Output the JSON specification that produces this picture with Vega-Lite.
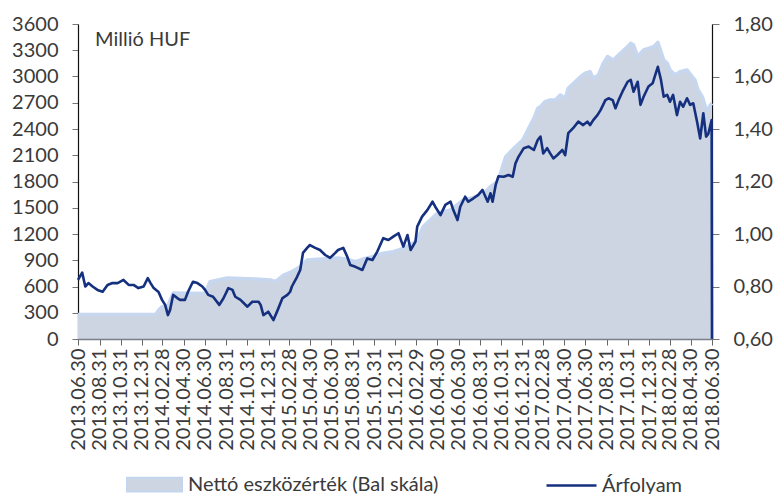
{
  "$schema": "https://vega.github.io/schema/vega-lite/v6.json",
  "autosize": {"type": "none"},
  "width": 634,
  "height": 315,
  "padding": {"left": 78, "top": 24, "right": 63, "bottom": 155},
  "background": "white",
  "config": {
    "view": {"stroke": null},
    "font": "Lato",
    "axis": {"labelFont": "Lato", "labelFontSize": 20, "labelColor": "#3a3a3a", "grid": false, "title": null, "labelOverlap": false},
    "axisY": {"labelOverlap": false},
    "legend": {"labelFont": "Lato", "labelFontSize": 20, "labelColor": "#3a3a3a", "padding": 0, "labelLimit": 500}
  },
  "title": {"text": "Millió HUF", "anchor": "start", "frame": "group", "orient": "top", "offset": -18, "dx": 17, "dy": 34, "baseline": "alphabetic", "fontSize": 20, "font": "Lato", "fontWeight": "normal", "color": "#3a3a3a"},
  "datasets": {
    "nav": [
      {"date": "2013-06-30", "value": 280},
      {"date": "2014-02-09", "value": 280},
      {"date": "2014-02-17", "value": 330},
      {"date": "2014-02-27", "value": 370},
      {"date": "2014-03-16", "value": 380},
      {"date": "2014-03-31", "value": 525},
      {"date": "2014-07-01", "value": 520},
      {"date": "2014-07-15", "value": 655},
      {"date": "2014-09-03", "value": 697},
      {"date": "2014-11-23", "value": 685},
      {"date": "2015-01-06", "value": 674},
      {"date": "2015-01-20", "value": 655},
      {"date": "2015-02-12", "value": 731},
      {"date": "2015-03-03", "value": 760},
      {"date": "2015-04-01", "value": 826},
      {"date": "2015-04-21", "value": 903},
      {"date": "2015-05-22", "value": 911},
      {"date": "2015-07-19", "value": 926},
      {"date": "2015-08-14", "value": 911},
      {"date": "2015-09-07", "value": 884},
      {"date": "2015-09-27", "value": 911},
      {"date": "2015-10-26", "value": 941},
      {"date": "2015-11-26", "value": 980},
      {"date": "2015-12-25", "value": 998},
      {"date": "2016-01-23", "value": 1036},
      {"date": "2016-02-19", "value": 1090},
      {"date": "2016-03-03", "value": 1131},
      {"date": "2016-03-20", "value": 1284},
      {"date": "2016-04-30", "value": 1437},
      {"date": "2016-06-07", "value": 1475},
      {"date": "2016-07-14", "value": 1589},
      {"date": "2016-08-04", "value": 1608},
      {"date": "2016-09-10", "value": 1660},
      {"date": "2016-09-30", "value": 1741},
      {"date": "2016-10-21", "value": 1800},
      {"date": "2016-11-13", "value": 2084},
      {"date": "2016-12-11", "value": 2198},
      {"date": "2017-01-01", "value": 2275},
      {"date": "2017-01-18", "value": 2408},
      {"date": "2017-02-02", "value": 2522},
      {"date": "2017-02-13", "value": 2637},
      {"date": "2017-02-21", "value": 2655},
      {"date": "2017-03-06", "value": 2712},
      {"date": "2017-03-21", "value": 2732},
      {"date": "2017-04-05", "value": 2732},
      {"date": "2017-04-19", "value": 2789},
      {"date": "2017-05-03", "value": 2751},
      {"date": "2017-05-12", "value": 2865},
      {"date": "2017-06-01", "value": 2941},
      {"date": "2017-06-16", "value": 2998},
      {"date": "2017-06-30", "value": 3037},
      {"date": "2017-07-14", "value": 3055},
      {"date": "2017-07-23", "value": 2980},
      {"date": "2017-08-07", "value": 3018},
      {"date": "2017-08-21", "value": 3151},
      {"date": "2017-09-02", "value": 3227},
      {"date": "2017-09-19", "value": 3189},
      {"date": "2017-10-09", "value": 3265},
      {"date": "2017-10-30", "value": 3341},
      {"date": "2017-11-08", "value": 3380},
      {"date": "2017-11-16", "value": 3360},
      {"date": "2017-11-28", "value": 3227},
      {"date": "2017-12-06", "value": 3265},
      {"date": "2017-12-15", "value": 3303},
      {"date": "2017-12-29", "value": 3322},
      {"date": "2018-01-13", "value": 3341},
      {"date": "2018-01-25", "value": 3390},
      {"date": "2018-02-03", "value": 3284},
      {"date": "2018-02-11", "value": 3189},
      {"date": "2018-02-21", "value": 3151},
      {"date": "2018-03-01", "value": 3075},
      {"date": "2018-03-16", "value": 3018},
      {"date": "2018-03-30", "value": 3055},
      {"date": "2018-04-19", "value": 3075},
      {"date": "2018-05-04", "value": 2998},
      {"date": "2018-05-12", "value": 2960},
      {"date": "2018-05-21", "value": 2846},
      {"date": "2018-06-02", "value": 2770},
      {"date": "2018-06-11", "value": 2655},
      {"date": "2018-06-19", "value": 2617},
      {"date": "2018-06-25", "value": 2674},
      {"date": "2018-06-30", "value": 2694}
    ],
    "price": [
      {"date": "2013-06-30", "value": 0.825},
      {"date": "2013-07-12", "value": 0.853},
      {"date": "2013-07-21", "value": 0.800},
      {"date": "2013-07-30", "value": 0.813},
      {"date": "2013-08-11", "value": 0.800},
      {"date": "2013-08-25", "value": 0.787},
      {"date": "2013-09-09", "value": 0.780},
      {"date": "2013-09-23", "value": 0.806},
      {"date": "2013-10-07", "value": 0.813},
      {"date": "2013-10-22", "value": 0.813},
      {"date": "2013-11-08", "value": 0.825},
      {"date": "2013-11-23", "value": 0.806},
      {"date": "2013-12-07", "value": 0.806},
      {"date": "2013-12-21", "value": 0.794},
      {"date": "2014-01-05", "value": 0.800},
      {"date": "2014-01-17", "value": 0.832},
      {"date": "2014-01-25", "value": 0.813},
      {"date": "2014-02-03", "value": 0.794},
      {"date": "2014-02-17", "value": 0.779},
      {"date": "2014-02-27", "value": 0.749},
      {"date": "2014-03-08", "value": 0.730},
      {"date": "2014-03-16", "value": 0.691},
      {"date": "2014-03-22", "value": 0.710},
      {"date": "2014-03-31", "value": 0.768},
      {"date": "2014-04-12", "value": 0.756},
      {"date": "2014-04-20", "value": 0.749},
      {"date": "2014-05-04", "value": 0.749},
      {"date": "2014-05-13", "value": 0.780},
      {"date": "2014-05-27", "value": 0.818},
      {"date": "2014-06-09", "value": 0.813},
      {"date": "2014-06-23", "value": 0.800},
      {"date": "2014-07-01", "value": 0.787},
      {"date": "2014-07-10", "value": 0.768},
      {"date": "2014-07-24", "value": 0.761},
      {"date": "2014-08-11", "value": 0.730},
      {"date": "2014-08-23", "value": 0.755},
      {"date": "2014-09-06", "value": 0.794},
      {"date": "2014-09-18", "value": 0.787},
      {"date": "2014-09-26", "value": 0.761},
      {"date": "2014-10-11", "value": 0.749},
      {"date": "2014-10-31", "value": 0.723},
      {"date": "2014-11-14", "value": 0.742},
      {"date": "2014-12-02", "value": 0.742},
      {"date": "2014-12-08", "value": 0.730},
      {"date": "2014-12-16", "value": 0.691},
      {"date": "2014-12-30", "value": 0.704},
      {"date": "2015-01-14", "value": 0.672},
      {"date": "2015-01-26", "value": 0.710},
      {"date": "2015-02-09", "value": 0.756},
      {"date": "2015-02-23", "value": 0.768},
      {"date": "2015-03-03", "value": 0.780},
      {"date": "2015-03-08", "value": 0.800},
      {"date": "2015-03-23", "value": 0.837},
      {"date": "2015-04-01", "value": 0.863},
      {"date": "2015-04-09", "value": 0.928},
      {"date": "2015-04-21", "value": 0.947},
      {"date": "2015-04-29", "value": 0.958},
      {"date": "2015-05-14", "value": 0.947},
      {"date": "2015-05-28", "value": 0.939},
      {"date": "2015-06-12", "value": 0.920},
      {"date": "2015-06-26", "value": 0.909},
      {"date": "2015-07-11", "value": 0.928},
      {"date": "2015-07-19", "value": 0.939},
      {"date": "2015-08-03", "value": 0.947},
      {"date": "2015-08-14", "value": 0.915},
      {"date": "2015-08-23", "value": 0.882},
      {"date": "2015-09-07", "value": 0.875},
      {"date": "2015-09-27", "value": 0.863},
      {"date": "2015-10-11", "value": 0.907},
      {"date": "2015-10-26", "value": 0.901},
      {"date": "2015-11-09", "value": 0.933},
      {"date": "2015-11-26", "value": 0.984},
      {"date": "2015-12-11", "value": 0.977},
      {"date": "2015-12-25", "value": 0.990},
      {"date": "2016-01-09", "value": 1.003},
      {"date": "2016-01-23", "value": 0.952},
      {"date": "2016-02-04", "value": 0.996},
      {"date": "2016-02-13", "value": 0.939},
      {"date": "2016-02-27", "value": 0.971},
      {"date": "2016-03-03", "value": 1.028},
      {"date": "2016-03-17", "value": 1.066},
      {"date": "2016-04-01", "value": 1.091},
      {"date": "2016-04-16", "value": 1.123},
      {"date": "2016-04-24", "value": 1.104},
      {"date": "2016-05-09", "value": 1.072},
      {"date": "2016-05-23", "value": 1.111},
      {"date": "2016-06-07", "value": 1.123},
      {"date": "2016-06-15", "value": 1.091},
      {"date": "2016-06-27", "value": 1.053},
      {"date": "2016-07-05", "value": 1.104},
      {"date": "2016-07-19", "value": 1.142},
      {"date": "2016-07-28", "value": 1.123},
      {"date": "2016-08-12", "value": 1.136},
      {"date": "2016-08-26", "value": 1.149},
      {"date": "2016-09-07", "value": 1.168},
      {"date": "2016-09-22", "value": 1.123},
      {"date": "2016-09-30", "value": 1.155},
      {"date": "2016-10-06", "value": 1.123},
      {"date": "2016-10-15", "value": 1.187},
      {"date": "2016-10-23", "value": 1.220},
      {"date": "2016-11-07", "value": 1.218},
      {"date": "2016-11-21", "value": 1.225},
      {"date": "2016-12-03", "value": 1.218},
      {"date": "2016-12-11", "value": 1.269},
      {"date": "2016-12-20", "value": 1.295},
      {"date": "2017-01-04", "value": 1.327},
      {"date": "2017-01-18", "value": 1.333},
      {"date": "2017-02-02", "value": 1.320},
      {"date": "2017-02-13", "value": 1.358},
      {"date": "2017-02-21", "value": 1.371},
      {"date": "2017-03-01", "value": 1.307},
      {"date": "2017-03-12", "value": 1.327},
      {"date": "2017-03-21", "value": 1.307},
      {"date": "2017-03-30", "value": 1.288},
      {"date": "2017-04-10", "value": 1.300},
      {"date": "2017-04-25", "value": 1.320},
      {"date": "2017-05-03", "value": 1.300},
      {"date": "2017-05-12", "value": 1.384},
      {"date": "2017-05-26", "value": 1.403},
      {"date": "2017-06-10", "value": 1.428},
      {"date": "2017-06-24", "value": 1.415},
      {"date": "2017-07-06", "value": 1.428},
      {"date": "2017-07-14", "value": 1.415},
      {"date": "2017-07-23", "value": 1.434},
      {"date": "2017-08-04", "value": 1.453},
      {"date": "2017-08-13", "value": 1.472},
      {"date": "2017-08-27", "value": 1.510},
      {"date": "2017-09-05", "value": 1.517},
      {"date": "2017-09-17", "value": 1.510},
      {"date": "2017-09-25", "value": 1.479},
      {"date": "2017-10-04", "value": 1.510},
      {"date": "2017-10-15", "value": 1.542},
      {"date": "2017-10-30", "value": 1.580},
      {"date": "2017-11-08", "value": 1.587},
      {"date": "2017-11-16", "value": 1.542},
      {"date": "2017-11-28", "value": 1.580},
      {"date": "2017-12-06", "value": 1.492},
      {"date": "2017-12-15", "value": 1.523},
      {"date": "2017-12-29", "value": 1.562},
      {"date": "2018-01-10", "value": 1.574},
      {"date": "2018-01-19", "value": 1.612},
      {"date": "2018-01-25", "value": 1.637},
      {"date": "2018-02-03", "value": 1.587},
      {"date": "2018-02-11", "value": 1.523},
      {"date": "2018-02-21", "value": 1.530},
      {"date": "2018-03-01", "value": 1.504},
      {"date": "2018-03-10", "value": 1.530},
      {"date": "2018-03-21", "value": 1.453},
      {"date": "2018-03-30", "value": 1.504},
      {"date": "2018-04-08", "value": 1.485},
      {"date": "2018-04-19", "value": 1.517},
      {"date": "2018-04-28", "value": 1.492},
      {"date": "2018-05-07", "value": 1.498},
      {"date": "2018-05-18", "value": 1.428},
      {"date": "2018-05-27", "value": 1.364},
      {"date": "2018-06-05", "value": 1.460},
      {"date": "2018-06-13", "value": 1.371},
      {"date": "2018-06-19", "value": 1.380},
      {"date": "2018-06-29", "value": 1.434},
      {"date": "2018-06-30", "value": 0.600}
    ]
  },
  "encoding": {
    "x": {
      "field": "date", "type": "temporal",
      "scale": {"type": "utc", "domain": [{"year": 2013, "month": 6, "date": 30, "utc": true}, {"year": 2018, "month": 6, "date": 30, "utc": true}]},
      "axis": {
        "labelExpr": "utcFormat(datum.value, '%Y.%m.%d')", "labelAngle": 270, "labelPadding": 3,
        "tickSize": 6, "tickColor": "#666666", "domainColor": "#7a7f88", "domainWidth": 1.5, "zindex": 1,
        "labelOverlap": false, "labelFlush": false, "labelBound": false,
        "values": [
          {"year": 2013, "month": 6, "date": 30, "utc": true},
          {"year": 2013, "month": 8, "date": 31, "utc": true},
          {"year": 2013, "month": 10, "date": 31, "utc": true},
          {"year": 2013, "month": 12, "date": 31, "utc": true},
          {"year": 2014, "month": 2, "date": 28, "utc": true},
          {"year": 2014, "month": 4, "date": 30, "utc": true},
          {"year": 2014, "month": 6, "date": 30, "utc": true},
          {"year": 2014, "month": 8, "date": 31, "utc": true},
          {"year": 2014, "month": 10, "date": 31, "utc": true},
          {"year": 2014, "month": 12, "date": 31, "utc": true},
          {"year": 2015, "month": 2, "date": 28, "utc": true},
          {"year": 2015, "month": 4, "date": 30, "utc": true},
          {"year": 2015, "month": 6, "date": 30, "utc": true},
          {"year": 2015, "month": 8, "date": 31, "utc": true},
          {"year": 2015, "month": 10, "date": 31, "utc": true},
          {"year": 2015, "month": 12, "date": 31, "utc": true},
          {"year": 2016, "month": 2, "date": 29, "utc": true},
          {"year": 2016, "month": 4, "date": 30, "utc": true},
          {"year": 2016, "month": 6, "date": 30, "utc": true},
          {"year": 2016, "month": 8, "date": 31, "utc": true},
          {"year": 2016, "month": 10, "date": 31, "utc": true},
          {"year": 2016, "month": 12, "date": 31, "utc": true},
          {"year": 2017, "month": 2, "date": 28, "utc": true},
          {"year": 2017, "month": 4, "date": 30, "utc": true},
          {"year": 2017, "month": 6, "date": 30, "utc": true},
          {"year": 2017, "month": 8, "date": 31, "utc": true},
          {"year": 2017, "month": 10, "date": 31, "utc": true},
          {"year": 2017, "month": 12, "date": 31, "utc": true},
          {"year": 2018, "month": 2, "date": 28, "utc": true},
          {"year": 2018, "month": 4, "date": 30, "utc": true},
          {"year": 2018, "month": 6, "date": 30, "utc": true}
        ]
      }
    }
  },
  "layer": [
    {
      "data": {"name": "nav"},
      "encoding": {
        "y": {
          "field": "value", "type": "quantitative",
          "scale": {"domain": [0, 3600], "nice": false},
          "axis": {"orient": "left", "values": [0, 300, 600, 900, 1200, 1500, 1800, 2100, 2400, 2700, 3000, 3300, 3600], "labelOverlap": false, "tickSize": 6, "tickColor": "#777777", "domainColor": "#111111", "domainWidth": 1.2, "labelPadding": 14, "format": "d"}
        }
      },
      "layer": [
        {
          "mark": {"type": "area", "opacity": 1},
          "encoding": {
            "fill": {
              "datum": "Nettó eszközérték (Bal skála)", "type": "nominal",
              "scale": {"range": ["#ccd5e1"]},
              "legend": {"title": null, "orient": "none", "legendX": 48, "legendY": 432, "symbolType": "M-1,-0.25H1V0.25H-1Z", "symbolSize": 3025, "symbolStrokeColor": "#c3d5ef", "symbolStrokeWidth": 2, "symbolOpacity": 1, "labelOffset": 5, "labelLimit": 500}
            }
          }
        },
        {
          "mark": {"type": "line", "color": "#c6d7ef", "strokeWidth": 3.5, "strokeJoin": "round"}
        }
      ]
    },
    {
      "data": {"name": "price"},
      "mark": {"type": "line", "strokeWidth": 2.6, "strokeJoin": "round"},
      "encoding": {
        "y": {
          "field": "value", "type": "quantitative",
          "scale": {"domain": [0.6, 1.8], "nice": false, "zero": false},
          "axis": {"orient": "right", "values": [0.6, 0.8, 1.0, 1.2, 1.4, 1.6, 1.8], "labelOverlap": false, "labelExpr": "replace(format(datum.value, '.2f'), '.', ',')", "tickSize": 7, "tickColor": "#777777", "domainColor": "#111111", "domainWidth": 1.2, "labelPadding": 14}
        },
        "stroke": {
          "datum": "Árfolyam", "type": "nominal",
          "scale": {"range": ["#15307f"]},
          "legend": {"title": null, "orient": "none", "legendX": 467, "legendY": 435, "symbolType": "stroke", "symbolSize": 2500, "symbolStrokeWidth": 2.5, "labelOffset": 4, "labelLimit": 500}
        }
      }
    }
  ],
  "resolve": {"scale": {"y": "independent", "fill": "independent", "stroke": "independent"}}
}
